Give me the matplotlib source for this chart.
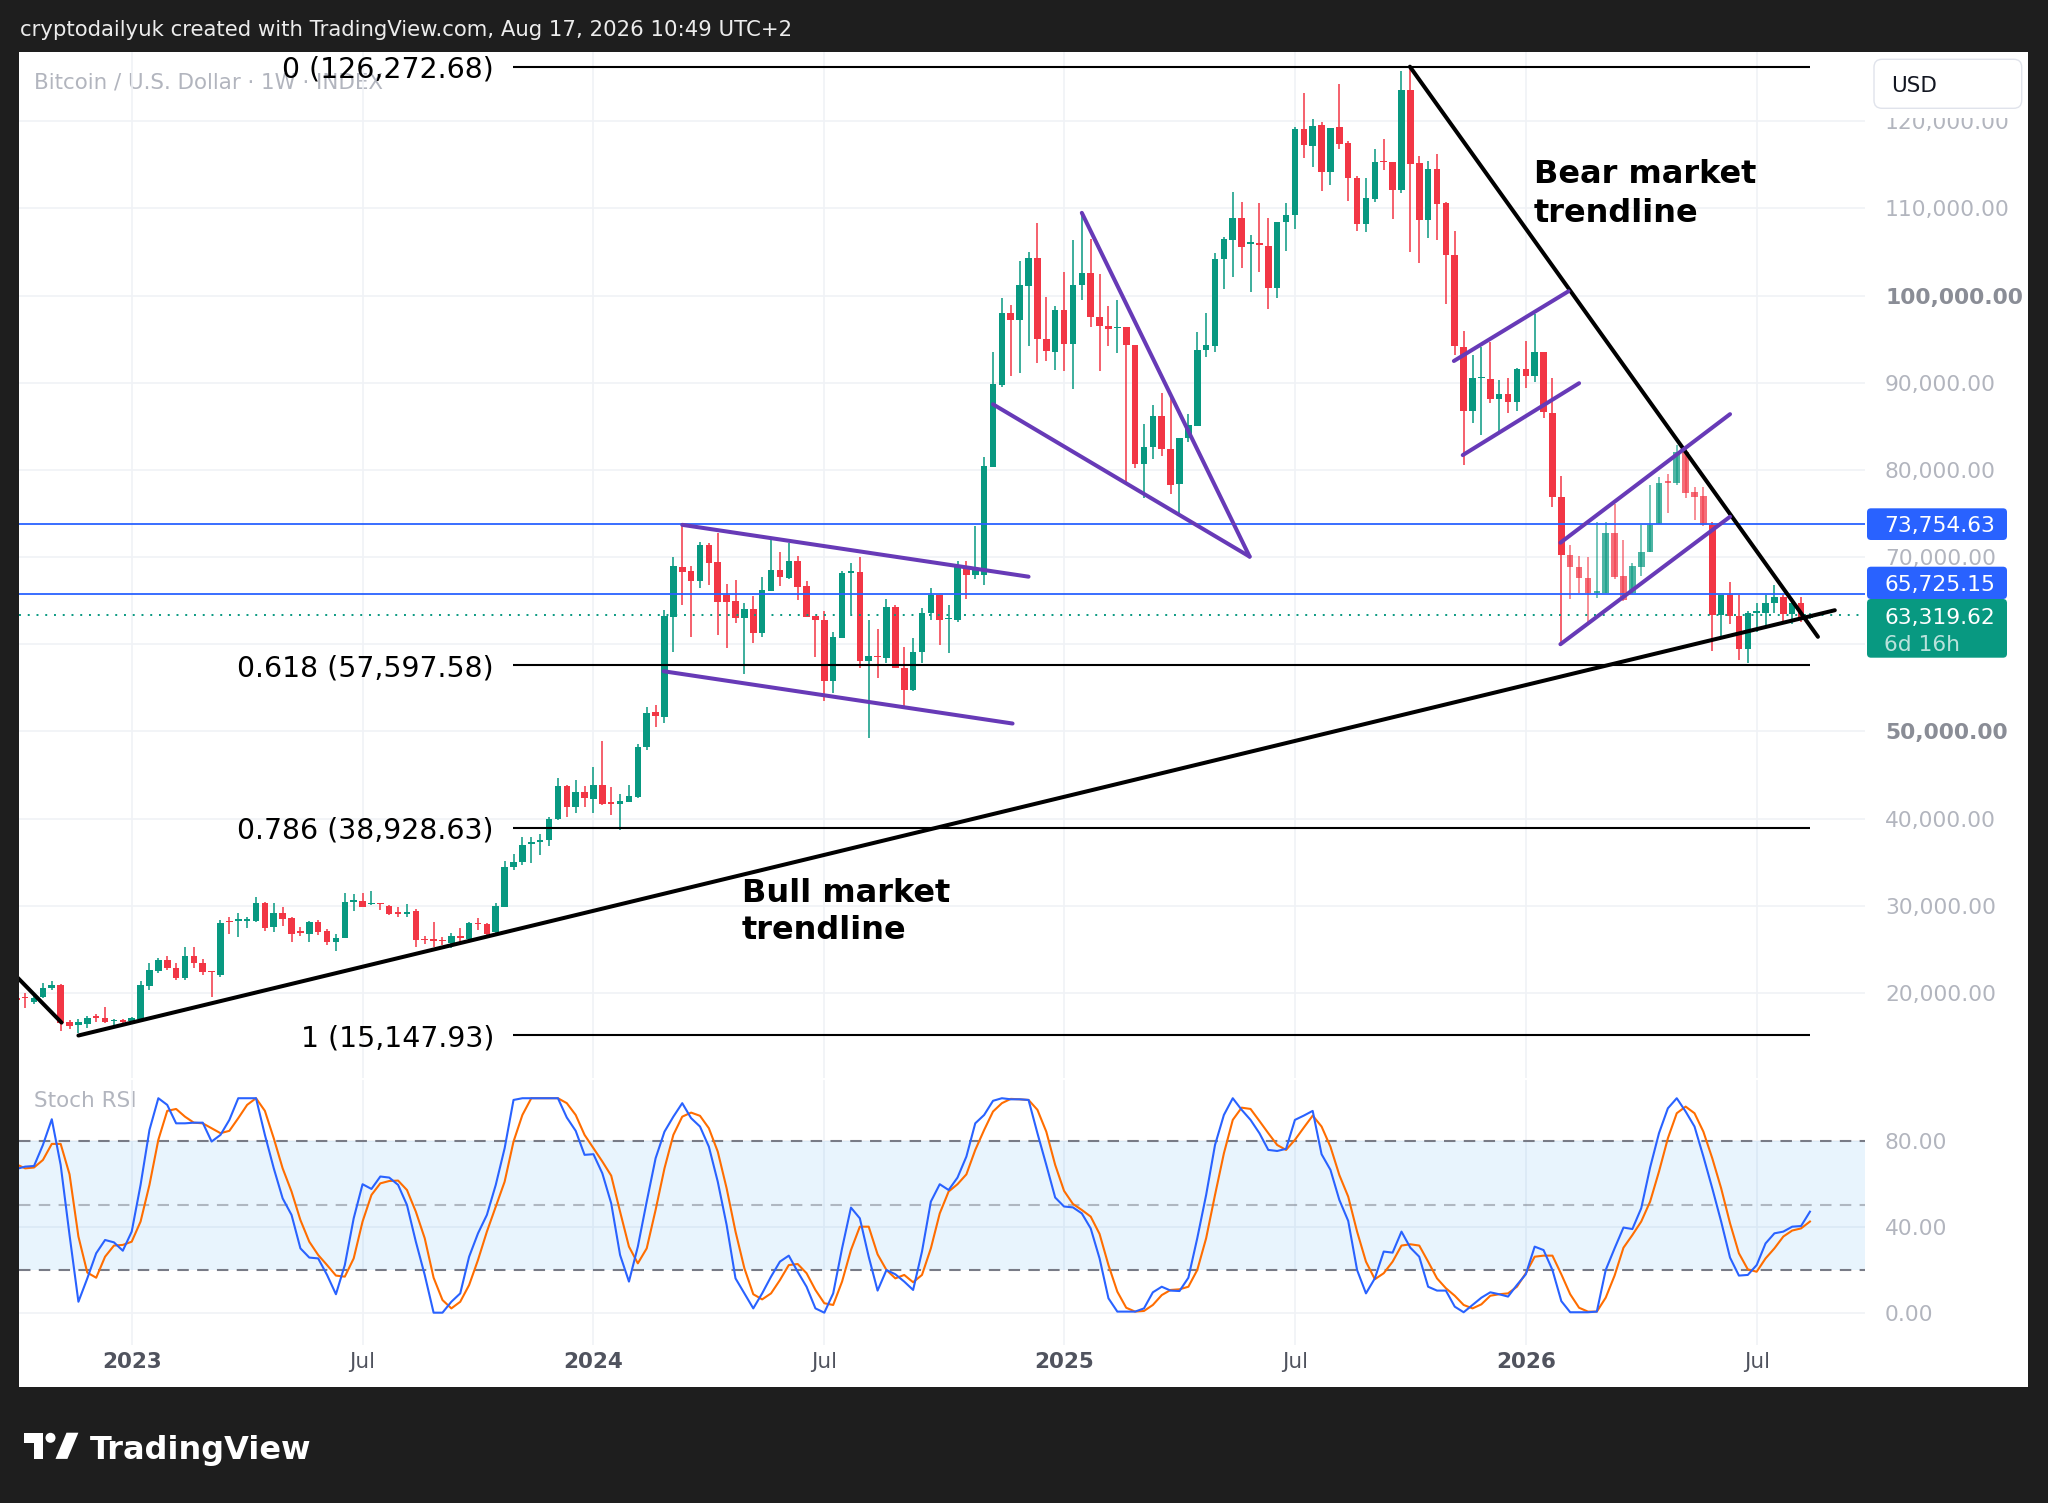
import numpy as np
import pandas as pd
import matplotlib
matplotlib.use("Agg")
import matplotlib.pyplot as plt
from matplotlib.patches import Rectangle, FancyBboxPatch, Polygon, Circle

# ---------------- data ----------------
weeks = pd.date_range("2022-10-03", periods=203, freq="W-MON")

open_k = [
    19.35, 19.55, 19.0, 19.55, 20.6, 20.9, 16.6, 16.3, 16.4, 17.34,
    17.15, 16.73, 16.84, 16.77, 16.96, 20.8, 22.5, 23.8, 22.9, 21.66,
    24.2, 23.46, 22.54, 22.04, 28.24, 28.28, 28.28, 28.28, 30.27, 27.5,
    29.2, 28.54, 27.13, 26.75, 28.1, 27.13, 25.87, 26.25, 30.46, 30.5,
    30.19, 30.35, 30.0, 29.3, 29.04, 29.43, 26.2, 26.13, 26.06, 25.68,
    26.52, 26.14, 28.05, 27.9, 27.02, 29.88, 34.47, 35.05, 37.04, 37.35,
    37.5, 39.94, 43.77, 41.36, 43.0, 42.2, 43.85, 41.9, 41.67, 41.93,
    42.5, 48.17, 52.2, 51.69, 63.16, 68.9, 68.44, 67.2, 71.39, 69.4,
    65.65, 64.96, 62.97, 64.04, 61.3, 66.1, 68.5, 67.56, 69.59, 66.68,
    63.24, 62.78, 55.8, 60.75, 68.2, 68.33, 58.1, 58.7, 58.46, 64.23,
    57.23, 54.75, 59.15, 63.62, 65.65, 62.9, 62.78, 68.9, 67.94, 67.94,
    80.38, 89.74, 97.97, 97.2, 101.1, 104.35, 95.0, 93.57, 98.35, 94.41,
    101.2, 102.6, 97.6, 96.5, 96.3, 96.36, 94.33, 80.68, 82.6, 86.19,
    82.36, 78.39, 83.7, 85.04, 93.76, 94.26, 104.2, 106.38, 108.95, 105.96,
    106.0, 105.7, 100.9, 108.5, 109.2, 119.1, 117.2, 119.58, 114.2, 119.3,
    117.48, 113.5, 108.22, 111.1, 115.49, 115.37, 112.1, 123.6, 115.18, 108.68,
    114.53, 110.6, 104.66, 94.14, 86.76, 90.5, 90.43, 88.1, 88.67, 87.83,
    91.54, 90.81, 93.57, 86.57, 76.86, 70.24, 68.82, 67.56, 65.92, 65.92,
    72.8, 67.83, 65.92, 68.9, 70.62, 73.8, 78.73, 78.46, 82.1, 77.43,
    77.0, 73.68, 63.35, 65.65, 63.24, 59.41, 63.62, 63.62, 64.7, 65.38,
    63.47, 64.77, 63.05,
]
high_k = [
    19.6, 19.95, 19.6, 21.1, 21.4, 21.0, 16.9, 16.96, 17.34, 17.57,
    18.4, 16.96, 16.96, 17.26, 21.3, 23.4, 23.96, 24.2, 23.4, 25.2,
    25.2, 23.9, 22.54, 28.4, 28.66, 29.12, 28.74, 31.03, 30.46, 30.27,
    29.9, 28.66, 27.6, 28.24, 28.35, 27.28, 26.75, 31.4, 31.3, 31.5,
    31.7, 30.35, 30.08, 29.9, 30.15, 29.58, 26.5, 28.16, 26.44, 26.9,
    27.4, 28.16, 28.54, 27.97, 30.34, 35.1, 35.89, 37.92, 37.92, 38.18,
    40.2, 44.6, 43.85, 44.4, 43.7, 45.95, 48.93, 43.6, 42.8, 43.85,
    48.6, 52.8, 53.0, 63.93, 70.0, 73.7, 68.97, 71.77, 71.58, 72.8,
    66.9, 67.4, 64.7, 65.5, 67.75, 71.96, 70.62, 71.65, 70.1, 67.25,
    63.24, 63.8, 61.36, 68.4, 69.35, 70.05, 62.78, 61.75, 65.15, 64.5,
    59.7, 60.67, 64.12, 66.5, 65.65, 64.5, 69.5, 69.5, 73.6, 81.5,
    93.5, 99.7, 98.9, 103.97, 105.0, 108.3, 99.9, 98.8, 102.75, 106.4,
    109.6, 106.5, 102.5, 98.8, 99.5, 96.36, 94.33, 85.27, 87.45, 88.79,
    88.4, 83.7, 86.38, 95.87, 97.97, 104.93, 106.77, 111.93, 110.78, 106.96,
    110.6, 108.9, 108.5, 110.6, 119.4, 123.2, 120.3, 119.96, 119.27, 124.3,
    117.75, 113.76, 113.46, 116.8, 117.97, 115.37, 125.78, 126.27, 116.0, 115.45,
    116.3, 110.8, 107.4, 95.94, 93.2, 94.14, 94.64, 90.3, 90.5, 91.73,
    94.8, 97.85, 93.57, 90.51, 79.3, 71.4, 70.16, 70.05, 74.06, 74.06,
    76.05, 71.96, 69.28, 73.68, 78.27, 79.15, 79.53, 82.86, 82.36, 78.0,
    78.0, 74.06, 65.65, 67.18, 65.65, 63.85, 64.7, 65.65, 66.8, 65.65,
    65.27, 65.38, 63.62,
]
low_k = [
    19.0, 18.2, 18.7, 19.35, 20.3, 15.65, 15.9, 15.43, 16.0, 16.7,
    16.5, 16.3, 16.5, 16.7, 16.9, 20.3, 22.3, 22.6, 21.47, 21.47,
    22.8, 22.04, 19.56, 21.85, 26.75, 26.44, 27.4, 28.16, 27.13, 27.0,
    27.7, 25.87, 26.5, 25.87, 26.6, 25.5, 24.8, 26.25, 29.4, 29.8,
    30.08, 29.5, 28.9, 28.74, 28.74, 25.2, 25.6, 25.3, 25.5, 25.1,
    25.87, 26.06, 27.2, 26.63, 26.82, 29.88, 34.09, 34.7, 34.86, 35.8,
    36.8, 39.83, 40.2, 40.6, 41.36, 40.6, 41.55, 40.4, 38.68, 41.93,
    42.3, 47.86, 50.5, 50.92, 59.15, 64.5, 60.87, 66.4, 66.8, 61.1,
    59.6, 62.4, 56.6, 60.18, 60.79, 66.1, 66.68, 67.44, 65.07, 63.16,
    58.57, 53.5, 54.36, 60.75, 63.47, 57.23, 49.2, 56.1, 57.8, 57.23,
    52.9, 54.6, 57.8, 62.78, 59.9, 58.95, 62.6, 65.15, 67.44, 66.8,
    80.38, 89.5, 90.78, 91.16, 94.26, 92.23, 92.5, 91.47, 91.3, 89.25,
    99.5, 96.4, 91.35, 94.2, 93.45, 78.54, 80.18, 76.74, 81.2, 81.6,
    77.24, 74.94, 83.17, 85.04, 93.0, 93.49, 100.8, 102.1, 103.2, 100.4,
    102.75, 98.47, 99.77, 105.12, 107.6, 115.75, 114.8, 112.0, 112.7, 116.8,
    110.86, 107.45, 107.3, 110.8, 114.4, 108.8, 111.74, 105.0, 103.7, 106.6,
    106.4, 99.0, 93.2, 80.6, 85.35, 84.0, 87.64, 84.39, 86.5, 86.76,
    89.36, 90.05, 86.0, 75.71, 59.9, 65.15, 65.84, 62.59, 65.27, 65.92,
    67.45, 64.96, 65.76, 67.83, 70.62, 73.8, 75.1, 78.27, 76.74, 74.25,
    73.57, 59.22, 60.87, 62.28, 58.19, 57.8, 61.44, 62.2, 63.62, 62.59,
    62.28, 62.59, 62.95,
]
close_k = [
    19.2, 19.35, 19.4, 20.5, 20.9, 16.5, 16.2, 16.6, 17.07, 17.07,
    16.6, 16.88, 16.69, 17.11, 20.9, 22.6, 23.8, 22.8, 21.66, 24.2,
    23.46, 22.4, 22.35, 27.97, 28.09, 28.43, 28.43, 30.27, 27.4, 29.2,
    28.43, 26.8, 26.9, 28.1, 27.0, 25.87, 26.33, 30.46, 30.65, 29.9,
    30.35, 30.19, 29.1, 29.04, 29.3, 26.06, 26.06, 25.98, 25.9, 26.56,
    26.25, 27.97, 27.9, 26.8, 29.96, 34.47, 35.05, 36.96, 37.35, 37.5,
    39.94, 43.77, 41.36, 43.0, 42.4, 43.85, 41.67, 41.67, 42.05, 42.58,
    48.2, 52.07, 51.76, 63.24, 68.97, 68.3, 67.2, 71.39, 69.36, 64.9,
    64.9, 62.97, 64.04, 61.3, 66.2, 68.5, 67.67, 69.59, 66.6, 63.16,
    62.78, 55.8, 60.79, 68.21, 68.4, 58.1, 58.7, 58.5, 64.23, 57.23,
    54.8, 59.15, 63.62, 65.65, 62.78, 63.05, 68.9, 67.94, 68.5, 80.45,
    89.86, 97.97, 97.2, 101.2, 104.35, 95.0, 93.7, 98.35, 94.41, 101.2,
    102.6, 97.6, 96.5, 96.2, 96.4, 94.33, 80.68, 82.6, 86.19, 82.36,
    78.27, 83.7, 85.16, 93.76, 94.33, 104.2, 106.46, 108.95, 105.6, 106.1,
    105.85, 100.9, 108.5, 109.25, 119.1, 117.3, 119.5, 114.2, 119.27, 117.36,
    113.46, 108.22, 111.16, 115.37, 115.3, 112.1, 123.6, 115.1, 108.68, 114.53,
    110.5, 104.66, 94.22, 86.76, 90.5, 90.6, 88.1, 88.67, 87.83, 91.54,
    90.81, 93.57, 86.6, 76.86, 70.24, 68.82, 67.56, 65.84, 66.1, 72.8,
    67.75, 65.07, 68.97, 70.62, 73.68, 78.54, 78.54, 82.1, 77.39, 76.93,
    73.68, 63.35, 65.65, 63.24, 59.41, 63.54, 63.85, 64.7, 65.38, 63.47,
    64.77, 62.97, 63.32,
]
stoch_k = [
    67, 68.1, 68.4, 78.2, 90.2, 68.9, 36.2, 5.1, 16.0, 27.7,
    33.9, 32.8, 28.9, 37.8, 59.6, 85.2, 100, 96.9, 88.3, 88.3,
    88.6, 88.6, 79.8, 82.9, 89.9, 100, 100, 100, 82.9, 67.3,
    53.3, 45.6, 30.0, 25.7, 25.3, 17.6, 8.6, 22.2, 44.0, 59.9,
    57.7, 63.5, 63.0, 59.6, 50.2, 33.1, 17.6, 0, 0, 5.1,
    9.0, 26.1, 37.0, 45.6, 59.6, 76.7, 99.2, 100, 100, 100,
    100, 100, 91.0, 84.8, 73.6, 73.9, 65.0, 51.0, 26.9, 14.5,
    30.8, 51.8, 72.0, 84.4, 91.4, 97.7, 90.7, 86.8, 77.4, 61.1,
    40.9, 16.0, 9.0, 2.0, 9.0, 16.8, 23.8, 26.6, 19.1, 12.1,
    2.0, 0, 9.0, 30.0, 49.0, 44.0, 26.1, 10.3, 19.9, 17.9,
    14.5, 10.6, 28.5, 51.8, 59.9, 57.2, 63.0, 72.8, 88.3, 92.2,
    98.8, 100, 99.5, 99.5, 99.2, 83.7, 68.9, 53.7, 49.5, 49.1,
    46.3, 39.3, 25.3, 6.7, 0.5, 0.5, 0.5, 2.0, 9.5, 12.1,
    10.3, 10.1, 16.3, 34.7, 54.9, 78.2, 92.2, 100, 94.6, 89.9,
    83.7, 75.9, 75.4, 76.4, 89.9, 91.9, 94.1, 73.9, 66.6, 52.6,
    42.8, 19.9, 9.0, 16.0, 28.5, 28.0, 37.8, 30.3, 26.1, 12.1,
    10.3, 10.3, 2.8, 0.2, 3.6, 7.0, 9.5, 8.6, 7.5, 12.9,
    17.9, 30.8, 29.2, 19.9, 5.4, 0.2, 0.2, 0.2, 0.5, 19.9,
    30.0, 39.7, 39.0, 48.7, 67.7, 83.7, 95.3, 100, 93.8, 86.8,
    72.8, 58.0, 42.5, 25.7, 17.3, 17.6, 22.2, 32.3, 37.0, 37.8,
    40.1, 40.4, 47.1,
]
stoch_d = [
    69.2, 67.3, 67.7, 71.2, 78.7, 78.7, 64.5, 35.5, 18.7, 16.3,
    26.1, 31.3, 31.6, 33.1, 42.5, 59.6, 80.6, 94.1, 95.0, 91.4,
    88.6, 88.3, 86.0, 83.7, 84.8, 90.7, 96.9, 100, 94.1, 81.3,
    67.3, 56.5, 43.2, 33.1, 26.9, 22.2, 17.3, 16.8, 25.3, 42.5,
    54.9, 60.3, 61.4, 61.6, 57.2, 47.1, 34.7, 16.3, 5.9, 2.0,
    5.1, 12.9, 24.6, 37.8, 49.5, 61.1, 79.8, 92.2, 100, 100,
    100, 100, 97.7, 92.2, 82.9, 76.7, 70.5, 63.9, 47.1, 30.8,
    23.0, 30.0, 47.9, 67.3, 82.9, 91.4, 93.3, 91.8, 86.0, 75.1,
    58.0, 37.8, 20.7, 8.6, 6.2, 9.0, 15.2, 22.2, 22.7, 18.4,
    10.6, 4.4, 3.6, 14.5, 29.2, 40.1, 40.1, 27.2, 19.9, 16.0,
    17.6, 14.2, 17.6, 30.0, 46.3, 56.5, 59.9, 64.5, 75.9, 85.2,
    93.8, 97.7, 99.7, 99.5, 99.2, 94.6, 84.4, 68.9, 56.8, 50.7,
    47.9, 44.8, 36.7, 22.2, 9.8, 2.3, 0.5, 0.8, 3.6, 8.2,
    10.6, 10.9, 12.1, 19.9, 34.7, 54.9, 74.3, 89.9, 95.6, 95.0,
    89.4, 83.7, 78.2, 75.9, 80.6, 86.3, 91.9, 86.8, 77.4, 64.2,
    54.1, 37.8, 23.8, 15.6, 18.4, 23.8, 31.3, 31.9, 31.3, 23.8,
    16.0, 11.4, 7.9, 3.6, 2.0, 3.9, 7.9, 8.6, 9.0, 12.1,
    18.4, 26.1, 26.6, 26.6, 17.9, 8.6, 2.3, 0.5, 0.5, 7.0,
    17.3, 30.3, 36.2, 42.5, 51.8, 65.8, 81.3, 93.0, 96.1, 93.0,
    84.4, 72.0, 58.0, 41.7, 27.7, 20.2, 19.1, 25.3, 30.0, 35.5,
    38.3, 39.3, 42.5,
]

fib_ratios = [0, 0.618, 0.786, 1]
fib_prices = [126272.68, 57597.58, 38928.63, 15147.93]
level_prices = [73754.63, 65725.15]
last_price = 63319.62
countdown = "6d 16h"
faded_weeks = ("2026-02-09", "2026-05-25")

# drawing anchors: (week index, price)
bull_line = [(7.0, 15100), (204.8, 63900)]
old_bear_line = [(-1.0, 22940), (5.1, 16580)]
bear_line = [(156.95, 126272.68), (202.9, 60850)]
purple_lines = [
    [(75.0, 73700), (114.0, 67750)],
    [(72.9, 56900), (112.2, 50900)],
    [(120.0, 109500), (138.9, 70050)],
    [(110.0, 87530), (138.9, 70050)],
    [(161.9, 92500), (174.8, 100500)],
    [(162.9, 81700), (176.0, 89950)],
    [(173.9, 71650), (193.0, 86400)],
    [(173.9, 60000), (193.0, 74630)],
]
fib_span = (55.9, 202.0)
fib_label_x = 53.8

header = "cryptodailyuk created with TradingView.com, Aug 17, 2026 10:49 UTC+2"
legend = "Bitcoin / U.S. Dollar \u00b7 1W \u00b7 INDEX"

# ---------------- figure ----------------
W, H = 2048, 1503
fig = plt.figure(figsize=(W / 100, H / 100), dpi=100)
fig.patch.set_facecolor("#1e1e1e")


def frect(x0, y0, x1, y1):
    return [x0 / W, 1 - y1 / H, (x1 - x0) / W, (y1 - y0) / H]


bg = fig.add_axes([0, 0, 1, 1], zorder=0)
bg.set_xlim(0, W)
bg.set_ylim(H, 0)
bg.axis("off")
bg.add_patch(Rectangle((18.75, 51.7), 2028 - 18.75, 1387 - 51.7, fc="white", ec="none"))
bg.text(34, 82, legend, fontsize=15.4, color="#b2b5be", va="center", ha="left")
bg.text(34, 1101, "Stoch RSI", fontsize=15.5, color="#b2b5be", va="center", ha="left")

ax = fig.add_axes(frect(18.75, 51.7, 1865, 1078), zorder=1)
ax2 = fig.add_axes(frect(18.75, 1080, 1865, 1345), zorder=1)
for a in (ax, ax2):
    a.set_facecolor("none")
    for s in a.spines.values():
        s.set_visible(False)
    a.set_xlim(0.28, 208.2)

x = np.arange(len(weeks))
o = np.array(open_k) * 1000
c = np.array(close_k) * 1000
h = np.maximum(np.array(high_k) * 1000, np.maximum(o, c))
l = np.minimum(np.array(low_k) * 1000, np.minimum(o, c))
up = c >= o
faded = (weeks >= faded_weeks[0]) & (weeks <= faded_weeks[1])
green, red = "#089981", "#f23645"
cols = []
for u, f in zip(up, faded):
    base = green if u else red
    cols.append(matplotlib.colors.to_rgba(base, 0.72 if f else 1.0))

# ticks
tick_idx, tick_lab, tick_bold = [], [], []
prev_m = None
for i, d in enumerate(weeks):
    if d.month != prev_m and d.month in (1, 7) and prev_m is not None:
        tick_idx.append(i)
        tick_lab.append(str(d.year) if d.month == 1 else "Jul")
        tick_bold.append(d.month == 1)
    prev_m = d.month

# --- price pane
ax.set_ylim(10224, 127992)
yt = np.arange(20000, 120001, 10000)
ax.set_yticks(yt)
ax.set_yticklabels([f"{v:,.2f}" for v in yt])
ax.yaxis.tick_right()
ax.tick_params(axis="y", length=0, pad=14.4, labelsize=15.7, labelcolor="#b2b5be")
ax.set_xticks(tick_idx)
ax.tick_params(axis="x", length=0, labelbottom=False)
ax.grid(True, color="#f0f2f6", lw=1.2)
ax.set_axisbelow(True)
for t, v in zip(ax.yaxis.get_major_ticks(), yt):
    if v in (100000, 50000):
        t.label2.set_fontweight("bold")
        t.label2.set_color("#8a8d96")

# candles
ax.vlines(x, l, h, colors=cols, lw=1.1, zorder=2)
body_h = np.maximum(np.abs(c - o), 130)
ax.bar(x, body_h, bottom=np.minimum(o, c), width=0.74, color=cols, lw=0, zorder=3)

# horizontal levels
for p in level_prices:
    ax.axhline(p, color="#2962ff", lw=1.3, zorder=4)
ax.axhline(last_price, color="#089981", lw=1.4, ls=(0, (1, 3.5)), zorder=4)

# fib
for r, p in zip(fib_ratios, fib_prices):
    ax.plot(fib_span, [p, p], color="black", lw=1.5, zorder=5, solid_capstyle="butt")
    ax.text(fib_label_x, p, f"{r:g} ({p:,.2f})", ha="right", va="center_baseline",
            fontsize=20.4, color="black", zorder=6)

# trendlines
for ln in (bull_line, old_bear_line, bear_line):
    ax.plot([ln[0][0], ln[1][0]], [ln[0][1], ln[1][1]], color="black", lw=2.9,
            zorder=6, solid_capstyle="round")
for ln in purple_lines:
    ax.plot([ln[0][0], ln[1][0]], [ln[0][1], ln[1][1]], color="#673ab7", lw=2.9,
            zorder=6, solid_capstyle="round")

ax.text(170.9, 112925, "Bear market", fontsize=23, fontweight="bold", va="baseline", zorder=7)
ax.text(170.9, 108485, "trendline", fontsize=23, fontweight="bold", va="baseline", zorder=7)
ax.text(81.7, 30450, "Bull market", fontsize=23, fontweight="bold", va="baseline", zorder=7)
ax.text(81.7, 26150, "trendline", fontsize=23, fontweight="bold", va="baseline", zorder=7)

# --- stoch pane
ax2.set_ylim(-15.07, 108.5)
ax2.axhspan(20, 80, color="#2196f3", alpha=0.1, lw=0, zorder=1)
ax2.axhline(80, color="#787b86", lw=1.5, ls=(0, (5.5, 4)), zorder=2)
ax2.axhline(20, color="#787b86", lw=1.5, ls=(0, (5.5, 4)), zorder=2)
ax2.axhline(50, color="#787b86", alpha=0.5, lw=1.5, ls=(0, (5.5, 4)), zorder=2)
ax2.plot(x, stoch_k, color="#2962ff", lw=1.5, zorder=4)
ax2.plot(x, stoch_d, color="#ff6d00", lw=1.5, zorder=3)
ax2.set_yticks([0, 40, 80])
ax2.set_yticklabels(["0.00", "40.00", "80.00"])
ax2.yaxis.tick_right()
ax2.tick_params(axis="y", length=0, pad=14.4, labelsize=15.7, labelcolor="#b2b5be")
ax2.set_xticks(tick_idx)
ax2.set_xticklabels(tick_lab)
ax2.tick_params(axis="x", length=0, pad=5, labelsize=15.5, labelcolor="#50535e")
for t, b in zip(ax2.xaxis.get_major_ticks(), tick_bold):
    if b:
        t.label1.set_fontweight("bold")
ax2.grid(True, color="#f0f2f6", lw=1.2)
ax2.set_axisbelow(True)

# --- overlay (labels, header, logo)
ov = fig.add_axes([0, 0, 1, 1], zorder=5)
ov.set_xlim(0, W)
ov.set_ylim(H, 0)
ov.axis("off")
ov.text(20, 30, header, fontsize=15.3, color="#ececec", va="center", ha="left")

ov.add_patch(Rectangle((1866, 52), 2028 - 1866, 118 - 52, fc="white", ec="none"))
ov.add_patch(FancyBboxPatch((1874, 59.3), 147.7, 49, boxstyle="round,pad=0,rounding_size=8",
                            fc="white", ec="#e0e3eb", lw=1))
ov.text(1891, 84, "USD", fontsize=15.5, color="#131722", va="center_baseline", ha="left")

for (y0, y1, p) in [(508.3, 540.0, level_prices[0]), (566.7, 599.0, level_prices[1])]:
    ov.add_patch(FancyBboxPatch((1867, y0), 140, y1 - y0, boxstyle="round,pad=0,rounding_size=4",
                                fc="#2962ff", ec="none"))
    ov.text(1884, (y0 + y1) / 2, f"{p:,.2f}", fontsize=15.7, color="white",
            va="center_baseline", ha="left")
ov.add_patch(FancyBboxPatch((1867, 599.0), 140, 58.7, boxstyle="round,pad=0,rounding_size=4",
                            fc="#089981", ec="none"))
ov.text(1884, 616, f"{last_price:,.2f}", fontsize=15.7, color="white", va="center_baseline", ha="left")
ov.text(1884, 643, countdown, fontsize=15.7, color=(1, 1, 1, 0.72), va="center_baseline", ha="left")

# TradingView logo
ov.add_patch(Polygon([(23.5, 1432.7), (43.1, 1432.7), (43.1, 1458.9), (34, 1458.9),
                      (34, 1442.5), (23.5, 1442.5)], closed=True, fc="white", ec="none"))
ov.add_patch(Circle((50.5, 1437.8), 5.0, fc="white", ec="none"))
ov.add_patch(Polygon([(55.5, 1458.9), (66.5, 1432.7), (78.4, 1432.7), (67.4, 1458.9)],
                     closed=True, fc="white", ec="none"))
ov.text(90, 1459, "TradingView", fontsize=23, fontweight="bold", color="white",
        va="baseline", ha="left")

fig.savefig("out.png", dpi=100, facecolor=fig.get_facecolor())
